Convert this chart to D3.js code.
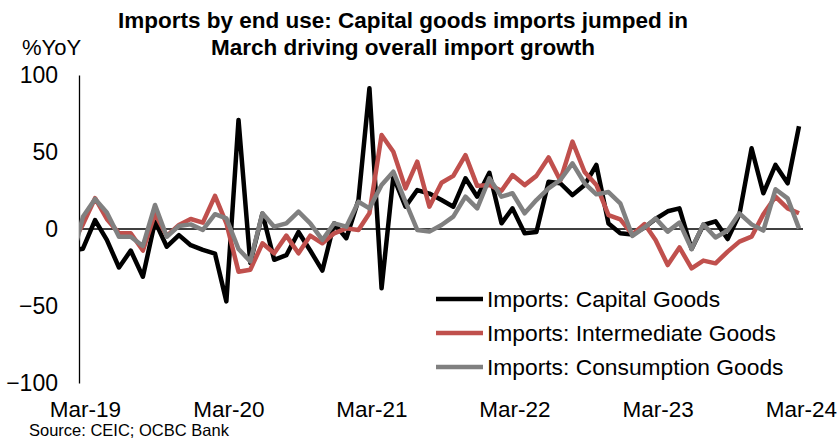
<!DOCTYPE html>
<html>
<head>
<meta charset="utf-8">
<script src="https://cdn.jsdelivr.net/npm/d3@7"></script>
<style>
  body { margin: 0; background: #fff; }
  svg { font-family: "Liberation Sans", Arial, sans-serif; }
</style>
</head>
<body>
<svg id="chart" width="838" height="439"></svg>
<script>
// months Feb-19 .. Mar-24 (Feb-19 sits just left of the axis and is clipped)
const months = d3.timeMonth.range(new Date(2019, 1, 1), new Date(2024, 3, 1));

const capitalGoods = [
  -14,
  -12.8, 5.8, -7, -25, -14, -31, 5, -11.5, -4, -10.5, -13.6, -16,
  -47, 70.8, -22, 10, -20, -17, -2, -14, -27, 3.7, -6, 18.8,
  91.4, -38.5, 34, 14.5, 25.3, 23, 18.8, 14.5, 32.9, 21, 36.5, 3.7,
  13.4, -2.8, -2, 30.7, 29.7, 22, 28.5, 41.6, 3.5, -2.8, -3.5, 1,
  6.5, 11.5, 13.4, -13, 2.6, 5, -6.5, 9.5, 52.4, 23.2, 41.6, 29.7,
  66.7
];
const intermediateGoods = [
  -10,
  3, 20, 6.5, -2.8, -2.8, -14, 10, -4.5, 2.6, 6.5, 4.1, 21.5,
  3.7, -27.7, -26.5, -9.3, -15.8, -4.3, -15.8, -4.3, -9.3, -2.8, 0.4, -0.6,
  10.2, 61, 50.2, 26.4, 43.7, 14.5, 30, 34.5, 48, 28, 28.6, 24.8,
  35, 28.5, 34.5, 46.5, 31.5, 56.7, 37, 28.6, 9, 6.3, -3.5, 3.2,
  -7.1, -23.4, -12, -25.5, -20.5, -22.3, -14.7, -8.2, -5, 9.5, 21, 13.4,
  10.2
];
const consumptionGoods = [
  -20,
  8, 19.5, 10.7, -5, -5, -11, 15.6, -5, 2, 3, -0.6, 9.6,
  6.9, -13, -21, 10.2, 1.5, 3.7, 11.3, 3.7, -7.1, 3.7, 1.5, 17.7,
  13.4, 28.6, 37.2, 17.7, -0.6, -1.7, 2.6, 8, 21, 13.4, 32.9, 21,
  23.2, 10.2, 18.8, 26.4, 31.8, 42.6, 29.7, 22.5, 24, 16.7, -4.5, 1,
  6.9, -1.7, 4.2, -13, 3, -5.5, -1, 10.2, 3, -1, 25.8, 19.9,
  0.4
];

const seriesNames = ["Imports: Capital Goods", "Imports: Intermediate Goods", "Imports: Consumption Goods"];
const seriesColors = ["#000000", "#C0504D", "#808080"];
const yTicks = [100, 50, 0, -50, -100];
const xTickDates = [2019, 2020, 2021, 2022, 2023, 2024].map((y) => new Date(y, 2, 1));

const svg = d3.select("#chart");

const x = d3
  .scaleTime()
  .domain([new Date(2019, 1, 19), new Date(2024, 2, 1)])
  .range([79, 799]);

const y = d3.scaleLinear().domain([-100, 100]).range([383, 75]);

// title
svg
  .append("text")
  .attr("x", 403)
  .attr("y", 28)
  .attr("text-anchor", "middle")
  .attr("font-size", 22.5)
  .attr("font-weight", "bold")
  .text("Imports by end use: Capital goods imports jumped in");
svg
  .append("text")
  .attr("x", 403)
  .attr("y", 55)
  .attr("text-anchor", "middle")
  .attr("font-size", 22.5)
  .attr("font-weight", "bold")
  .text("March driving overall import growth");

svg.append("text").attr("x", 22).attr("y", 55).attr("font-size", 22).text("%YoY");

// y axis
const yAxis = svg
  .append("g")
  .attr("transform", "translate(79,0)")
  .call(d3.axisLeft(y).tickValues(yTicks).tickSize(0).tickPadding(21));
yAxis.select(".domain").attr("stroke", "#000").attr("stroke-width", 1.3);
yAxis.selectAll("text").attr("font-size", 23).attr("font-family", "Liberation Sans, Arial").attr("fill", "#000");

// zero line
svg
  .append("line")
  .attr("x1", x.range()[0])
  .attr("x2", x.range()[1] + 4)
  .attr("y1", y(0))
  .attr("y2", y(0))
  .attr("stroke", "#000")
  .attr("stroke-width", 1.3);

// x labels at the bottom
const xAxis = svg
  .append("g")
  .attr("transform", "translate(2,398)")
  .call(d3.axisBottom(x).tickValues(xTickDates).tickSize(0).tickFormat(d3.timeFormat("%b-%y")));
xAxis.select(".domain").remove();
xAxis.selectAll("text").attr("font-size", 22.5).attr("font-family", "Liberation Sans, Arial").attr("fill", "#000");

// clip lines to plot area
svg
  .append("clipPath")
  .attr("id", "plot-clip")
  .append("rect")
  .attr("x", 79)
  .attr("y", 60)
  .attr("width", 730)
  .attr("height", 340);

const line = d3
  .line()
  .x((d, i) => x(months[i]))
  .y((d) => y(d));

const plot = svg.append("g").attr("clip-path", "url(#plot-clip)");
[capitalGoods, intermediateGoods, consumptionGoods].forEach((values, k) => {
  plot
    .append("path")
    .datum(values)
    .attr("fill", "none")
    .attr("stroke", seriesColors[k])
    .attr("stroke-width", 4.5)
    .attr("stroke-linejoin", "round")
    .attr("d", line);
});

// legend
const legend = svg.append("g").attr("transform", "translate(436,299)");
seriesNames.forEach((name, k) => {
  const row = legend.append("g").attr("transform", `translate(0,${k * 34})`);
  row
    .append("line")
    .attr("x1", 0)
    .attr("x2", 47)
    .attr("stroke", seriesColors[k])
    .attr("stroke-width", 4.5);
  row.append("text").attr("x", 51).attr("y", 8).attr("font-size", 22.8).text(name);
});

svg
  .append("text")
  .attr("x", 29)
  .attr("y", 436)
  .attr("font-size", 16.5)
  .text("Source: CEIC; OCBC Bank");
</script>
</body>
</html>
